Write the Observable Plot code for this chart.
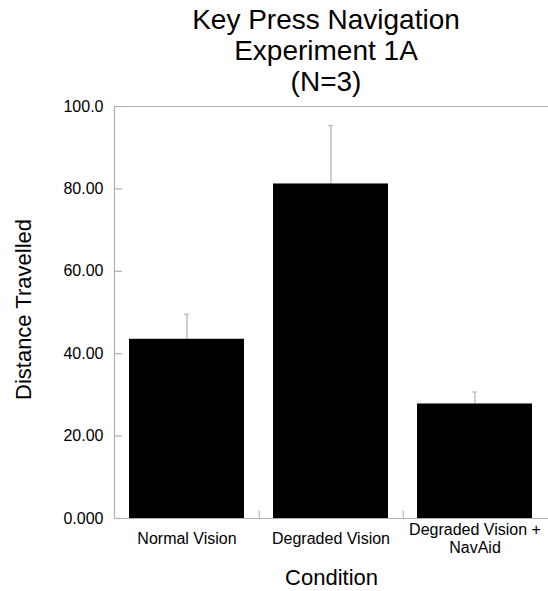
<!DOCTYPE html>
<html>
<head>
<meta charset="utf-8">
<script src="https://cdn.jsdelivr.net/npm/d3@7"></script>
<script src="https://cdn.jsdelivr.net/npm/@observablehq/plot@0.6"></script>
<style>
  body { margin: 0; background: #fff; font-family: "Liberation Sans", Arial, Helvetica, sans-serif; }
  #title { width: 548px; height: 93px; padding-top: 4px; box-sizing: content-box; }
  #title div { position: relative; left: 52px; text-align: center; font-size: 28px; line-height: 31px; color: #000; white-space: nowrap; }
</style>
</head>
<body>
<div id="title"><div>Key Press Navigation</div><div>Experiment 1A</div><div>(N=3)</div></div>
<div id="chart"></div>
<script>
const categories = ["Normal Vision", "Degraded Vision", "Degraded Vision +\nNavAid"];
const means = [43.5, 81.2, 27.8];
const errors = [6.1, 14.2, 2.9];
const yTicks = [0, 20, 40, 60, 80, 100];
const yTickLabels = ["0.000", "20.00", "40.00", "60.00", "80.00", "100.0"];

const data = categories.map((c, i) => ({cond: c, mean: means[i], top: means[i] + errors[i]}));
const gray = "#b0b0b0";

const chart = Plot.plot({
  width: 548,
  height: 494,
  marginTop: 9,
  marginBottom: 73,
  marginLeft: 114,
  marginRight: 0,
  style: {fontFamily: "'Liberation Sans', Arial, Helvetica, sans-serif", background: "#fff", color: "#000"},
  x: {domain: categories, paddingInner: 0.2, paddingOuter: 0.1},
  y: {domain: [0, 100]},
  marks: [
    Plot.ruleY([0, 100], {stroke: gray, strokeWidth: 1.2}),
    Plot.frame({anchor: "left", stroke: gray, strokeWidth: 1.2}),
    Plot.tickY(yTicks, {y: d => d, insetRight: 426, stroke: gray, strokeWidth: 1.2}),
    Plot.ruleX(categories.slice(0, 2), {x: d => d, y1: 0, y2: 1.8, dx: 72.3, stroke: gray}),
    Plot.ruleX(data, {x: "cond", y1: "mean", y2: "top", stroke: gray, strokeWidth: 1.2}),
    Plot.tickY(data, {x: "cond", y: "top", stroke: gray, insetLeft: 55, insetRight: 55}),
    Plot.barY(data, {x: "cond", y: "mean", fill: "#000"}),
    Plot.axisY(yTicks, {tickSize: 0, tickPadding: 11, fontSize: 16, fill: "#000",
      tickFormat: (d) => yTickLabels[yTicks.indexOf(d)], label: null}),
    Plot.axisX({ticks: [], label: null}),
    Plot.text(categories, {x: d => d, text: d => d, frameAnchor: "bottom", dy: 20, lineAnchor: "middle",
      fontSize: 16, lineHeight: 1.1, fill: "#000"}),
    Plot.text(["Condition"], {frameAnchor: "bottom", dy: 66, fontSize: 22, fill: "#000"}),
    Plot.text(["Distance Travelled"], {frameAnchor: "left", textAnchor: "middle", dx: -91, dy: -3, rotate: -90, fontSize: 22, fill: "#000"})
  ]
});
document.getElementById("chart").appendChild(chart);
</script>
</body>
</html>
